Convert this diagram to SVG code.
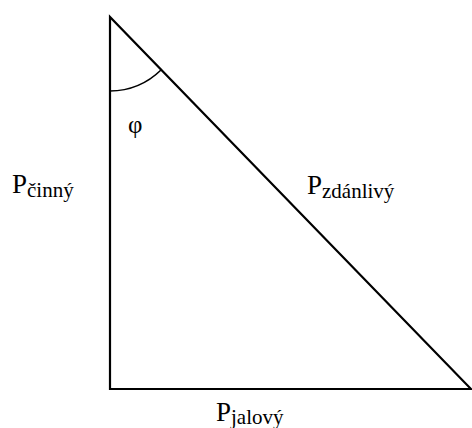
<svg xmlns="http://www.w3.org/2000/svg" width="472" height="428" viewBox="0 0 472 428">
<style>
.ln{stroke:#000;stroke-width:2.2;fill:none;stroke-linecap:square}
text{font-family:'Liberation Serif','Times New Roman',Times,serif;fill:#000}
.big{font-size:27px}
.sub{font-size:21px}
</style>
<rect width="472" height="428" fill="#fff"/>
<g id="connectors">
<path id="triangle" class="ln" d="M110,17 L110,389 L471,389 Z" stroke-linejoin="miter"/>
<path id="angle-arc" class="ln" d="M110,91 A74,74 0 0 0 161,70" style="stroke-width:1.6"/>
</g>
<g id="label-phi"><text x="128" y="133" font-size="25">φ</text></g>
<g id="label-cinny"><text class="big" x="12" y="193">P<tspan class="sub" dy="4">činný</tspan></text></g>
<g id="label-zdanlivy"><text class="big" x="307" y="194">P<tspan class="sub" dy="4">zdánlivý</tspan></text></g>
<g id="label-jalovy"><text class="big" x="216" y="421">P<tspan class="sub" dy="3">jalový</tspan></text></g>
</svg>
